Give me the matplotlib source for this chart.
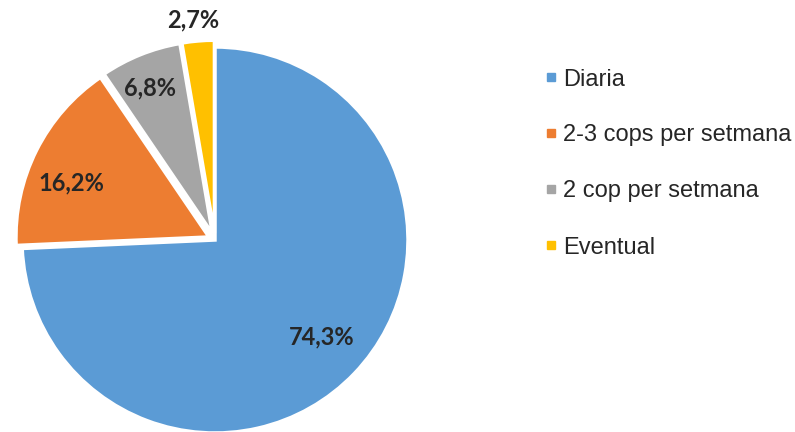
import numpy as np
import matplotlib
matplotlib.use("Agg")
import matplotlib.pyplot as plt
from matplotlib.lines import Line2D

categories = ["Diaria", "2-3 cops per setmana", "2 cop per setmana", "Eventual"]
values = [74.3, 16.2, 6.8, 2.7]
labels = ["74,3%", "16,2%", "6,8%", "2,7%"]
colors = ["#5B9BD5", "#ED7D31", "#A5A5A5", "#FFC000"]
explode = [0.0, 0.035, 0.035, 0.035]
label_r = [0.75, 0.80, 0.857, 1.144]
label_da = [1.5, 5.0, 1.2, 0.8]

W, H = 795, 432
fig = plt.figure(figsize=(W / 100, H / 100), dpi=100)
cx, cy, R = 215, 240, 193
ax = fig.add_axes([(cx - R) / W, (H - cy - R) / H, 2 * R / W, 2 * R / H])

wedges, _ = ax.pie(values, colors=colors, startangle=90, counterclock=False,
                   explode=explode, radius=1,
                   wedgeprops=dict(edgecolor="white", linewidth=2.5))
ax.set_xlim(-1, 1)
ax.set_ylim(-1, 1)
ax.set_aspect("equal")
ax.axis("off")

for w, lab, r, da in zip(wedges, labels, label_r, label_da):
    ang = np.deg2rad((w.theta1 + w.theta2) / 2 + da)
    ax.text(r * np.cos(ang), r * np.sin(ang), lab, ha="center", va="center",
            fontsize=17, fontweight="bold", family="Lato", color="#262626",
            clip_on=False)

handles = [Line2D([0], [0], marker="s", linestyle="", markersize=6,
                  markerfacecolor=c, markeredgecolor=c) for c in colors]
fig.legend(handles, categories, loc="center left", bbox_to_anchor=(545 / W, 1 - 163.5 / H),
           frameon=False, prop={"family": "Liberation Sans", "size": 17},
           labelspacing=1.44, handlelength=0.5, handletextpad=0.25,
           labelcolor="#262626", borderaxespad=0, borderpad=0)

fig.savefig("out.png", dpi=100)
